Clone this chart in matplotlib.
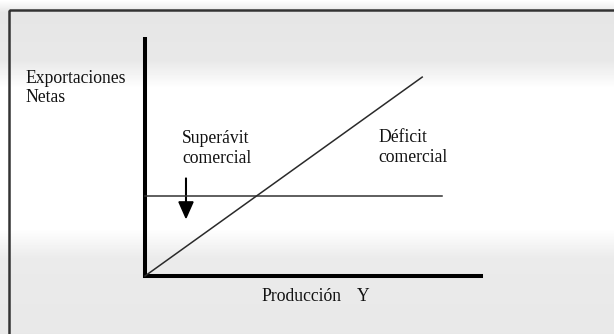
import numpy as np
import matplotlib.pyplot as plt
from matplotlib.patches import Rectangle

# ---- data (chart units, origin at the corner of the axes) ----
x_axis_end = 10.0
y_axis_top = 7.03
nx_level = 2.35          # horizontal line (net exports)
nx_end = 8.85
diag_x = [0.0, 8.25]     # diagonal line
diag_y = [0.0, 5.85]
arrow_x = 1.22
arrow_y = [2.88, 1.71]

labels_y = ["Exportaciones", "Netas"]
labels_sup = ["Superávit", "comercial"]
labels_def = ["Déficit", "comercial"]
label_x = "Producción"
label_x2 = "Y"

# ---- canvas ----
W, H = 614, 334
fig = plt.figure(figsize=(W / 100, H / 100), dpi=100)
fig.patch.set_facecolor("white")

# background band (scanned look) + frame, in pixel coords
bg = fig.add_axes([0, 0, 1, 1])
bg.set_xlim(0, W)
bg.set_ylim(H, 0)
bg.axis("off")
rows = np.arange(H)
shade = np.interp(rows, [0, 12, 60, 88, 228, 258, 334],
                  [1.0, 0.90, 0.91, 1.0, 1.0, 0.92, 0.91])
img = np.tile(shade[:, None], (1, W))
bg.imshow(img, cmap="gray", vmin=0, vmax=1, extent=(0, W, H, 0), aspect="auto")
bg.add_patch(Rectangle((8.5, 10), W, H, fill=False, ec="#333333", lw=1.8))

# chart axes: 1 unit = 33.6 px in x, 34 px in y, origin at pixel (145, 276)
ax = fig.add_axes([0, 0, 1, 1])
ax.set_xlim(-145 / 33.6, (W - 145) / 33.6)
ax.set_ylim(-(H - 276) / 34, 276 / 34)
ax.axis("off")
ax.patch.set_alpha(0)

ax.plot([0, 0], [0, y_axis_top], color="black", lw=2.9, solid_capstyle="butt")
ax.plot([0, x_axis_end], [0, 0], color="black", lw=2.9, solid_capstyle="projecting")
ax.plot([0, nx_end], [nx_level, nx_level], color="#333333", lw=1.1)
ax.plot(diag_x, diag_y, color="#2a2a2a", lw=1.1)
ax.arrow(arrow_x, arrow_y[0], 0, arrow_y[1] - arrow_y[0], length_includes_head=True,
         head_width=0.42, head_length=0.47, width=0.02, color="black")

def px(x, y):
    return (x - 145) / 33.6, (276 - y) / 34

font = dict(family="Liberation Serif", fontsize=12.7, color="#111111", va="baseline")
ax.text(*px(25, 83), labels_y[0], **font)
ax.text(*px(25, 102), labels_y[1], **font)
ax.text(*px(182, 143), labels_sup[0], **font)
ax.text(*px(182, 163), labels_sup[1], **font)
ax.text(*px(378, 142), labels_def[0], **font)
ax.text(*px(378, 162), labels_def[1], **font)
ax.text(*px(261, 301), label_x, **font)
ax.text(*px(357, 301), label_x2, **font)

fig.savefig("out.png", dpi=100)
